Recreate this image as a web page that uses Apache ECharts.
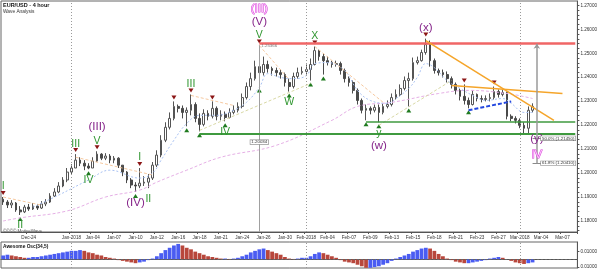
<!DOCTYPE html>
<html><head><meta charset="utf-8">
<script src="https://cdn.jsdelivr.net/npm/echarts@6/dist/echarts.min.js"></script>
<style>html,body{margin:0;padding:0;background:#fff}#c{width:600px;height:271px}</style>
</head><body><div id="c"></div>
<script>
// ---- axis / category data ----
const tickLabels = ['Dec-24','','Jan-2018','Jan-04','Jan-07','Jan-10','Jan-12','Jan-16','Jan-18','Jan-21','Jan-24','Jan-26','Jan-30','Feb-2018','Feb-04','Feb-07','Feb-09','Feb-13','Feb-15','Feb-18','Feb-21','Feb-23','Feb-27','Mar-2018','Mar-04','Mar-07'];
const firstTickSlot = 6, slotsPerTick = 5, totalSlots = 135;
const monthStarts = ['Jan-2018','Feb-2018','Mar-2018'];
const priceTicks = [1.18,1.19,1.20,1.21,1.22,1.23,1.24,1.25,1.26,1.27];
const oscTicks = [-0.01,0.01];

// ---- EUR/USD candles (open = previous close) ----
const firstOpen = 1.1891;
const closes = [1.1879,1.1867,1.1875,1.1846,1.1838,1.1858,1.1850,1.1862,1.1854,1.1871,
1.1879,1.1904,1.1921,1.1946,1.1971,1.2004,1.2021,1.2054,1.2041,1.2029,
1.2021,1.2050,1.2079,1.2062,1.2071,1.2054,1.2062,1.2033,1.2004,1.1971,
1.1950,1.1946,1.1958,1.1962,1.1979,1.2033,1.2075,1.2137,1.2191,1.2228,
1.2278,1.2270,1.2253,1.2262,1.2286,1.2228,1.2203,1.2249,1.2237,1.2270,
1.2237,1.2245,1.2232,1.2253,1.2262,1.2278,1.2315,1.2361,1.2394,1.2444,
1.2419,1.2453,1.2436,1.2428,1.2419,1.2411,1.2378,1.2361,1.2403,1.2419,
1.2424,1.2432,1.2453,1.2511,1.2486,1.2469,1.2461,1.2453,1.2457,1.2428,
1.2394,1.2378,1.2345,1.2303,1.2262,1.2270,1.2262,1.2274,1.2253,1.2278,
1.2286,1.2315,1.2328,1.2353,1.2386,1.2394,1.2461,1.2469,1.2503,1.2536,
1.2469,1.2428,1.2419,1.2411,1.2394,1.2370,1.2345,1.2320,1.2303,1.2286,
1.2328,1.2311,1.2307,1.2311,1.2315,1.2340,1.2328,1.2336,1.2237,1.2228,
1.2220,1.2199,1.2187,1.2262,1.2278];
const highs = [1.1900,1.1887,1.1887,1.1879,1.1862,1.1867,1.1871,1.1875,1.1871,1.1883,
1.1891,1.1916,1.1937,1.1962,1.1983,1.2021,1.2037,1.2079,1.2066,1.2054,
1.2041,1.2066,1.2091,1.2083,1.2083,1.2079,1.2071,1.2066,1.2033,1.2008,
1.1979,1.1962,1.2021,1.1987,1.1996,1.2046,1.2095,1.2158,1.2212,1.2253,
1.2299,1.2286,1.2282,1.2274,1.2328,1.2295,1.2249,1.2266,1.2262,1.2299,
1.2278,1.2262,1.2257,1.2270,1.2282,1.2295,1.2332,1.2378,1.2419,1.2469,
1.2532,1.2486,1.2469,1.2444,1.2440,1.2432,1.2419,1.2394,1.2419,1.2440,
1.2444,1.2453,1.2478,1.2528,1.2515,1.2498,1.2486,1.2469,1.2469,1.2465,
1.2436,1.2403,1.2386,1.2353,1.2311,1.2286,1.2278,1.2286,1.2286,1.2291,
1.2303,1.2332,1.2349,1.2370,1.2403,1.2419,1.2482,1.2486,1.2515,1.2561,
1.2553,1.2478,1.2436,1.2432,1.2424,1.2403,1.2378,1.2353,1.2370,1.2315,
1.2345,1.2332,1.2324,1.2324,1.2332,1.2361,1.2349,1.2349,1.2340,1.2245,
1.2237,1.2228,1.2212,1.2278,1.2291];
const lows = [1.1867,1.1854,1.1854,1.1838,1.1825,1.1833,1.1842,1.1846,1.1846,1.1850,
1.1862,1.1875,1.1900,1.1916,1.1941,1.1962,1.1996,1.2021,1.2029,1.2012,
1.2016,1.2021,1.2046,1.2054,1.2054,1.2041,1.2041,1.2021,1.1987,1.1958,
1.1937,1.1921,1.1937,1.1946,1.1937,1.1971,1.2025,1.2066,1.2129,1.2182,
1.2220,1.2253,1.2228,1.2195,1.2241,1.2212,1.2174,1.2195,1.2220,1.2228,
1.2220,1.2220,1.2216,1.2228,1.2245,1.2253,1.2270,1.2307,1.2345,1.2386,
1.2361,1.2407,1.2419,1.2407,1.2403,1.2394,1.2361,1.2340,1.2353,1.2394,
1.2411,1.2411,1.2386,1.2449,1.2469,1.2411,1.2449,1.2440,1.2444,1.2411,
1.2378,1.2361,1.2332,1.2286,1.2249,1.2220,1.2245,1.2253,1.2212,1.2245,
1.2270,1.2278,1.2307,1.2320,1.2345,1.2278,1.2386,1.2453,1.2465,1.2494,
1.2444,1.2415,1.2407,1.2399,1.2378,1.2353,1.2328,1.2303,1.2286,1.2270,
1.2282,1.2299,1.2295,1.2299,1.2299,1.2307,1.2315,1.2320,1.2224,1.2216,
1.2207,1.2187,1.2166,1.2162,1.2253];

// ---- moving averages: [slot, price] ----
const fastMA = [[7,1.1858],[13,1.1908],[20,1.1971],[25,1.2012],[32,1.1979],[35,1.2000],[37,1.2054],[40,1.2137],[43,1.2207],[46,1.2241],[50,1.2241],[54,1.2262],[57,1.2295],[60,1.2357],[62,1.2415],[65,1.2399],[68,1.2394],[71,1.2407],[73,1.2457],[76,1.2461],[80,1.2428],[83,1.2345],[86,1.2303],[90,1.2291],[92,1.2311],[95,1.2353],[97,1.2399],[99,1.2457],[101,1.2440],[104,1.2386],[107,1.2353],[110,1.2324],[113,1.2303],[117,1.2311],[119,1.2291],[122,1.2253],[124,1.2253]];
const slowMA = [[0,1.1800],[4,1.1813],[15,1.1842],[24,1.1900],[32,1.1929],[36,1.1962],[43,1.2012],[51,1.2066],[64,1.2116],[77,1.2220],[83,1.2278],[91,1.2295],[102,1.2332],[109,1.2345],[118,1.2332],[124,1.2311]];

// ---- Awesome Oscillator (34,5) ----
const aoValues = [0.005,0.006,0.005,0.004,0.003,0.002,0.002,0.003,0.003,0.004,
0.005,0.006,0.007,0.008,0.009,0.010,0.011,0.011,0.012,0.011,
0.009,0.008,0.006,0.005,0.003,0.002,0.001,-0.001,-0.002,-0.003,
-0.004,-0.005,-0.004,-0.003,-0.001,0.001,0.004,0.008,0.012,0.015,
0.018,0.020,0.018,0.015,0.013,0.010,0.008,0.006,0.004,0.003,
0.002,0.001,0.001,0.0005,0.001,0.002,0.004,0.006,0.009,0.011,
0.013,0.014,0.012,0.010,0.008,0.006,0.003,0.001,0.0005,0.001,
0.002,0.002,0.004,0.007,0.009,0.008,0.006,0.004,0.002,-0.001,
-0.003,-0.004,-0.005,-0.007,-0.009,-0.011,-0.011,-0.010,-0.009,-0.007,
-0.005,-0.002,0.001,0.003,0.005,0.007,0.010,0.012,0.014,0.015,
0.014,0.011,0.007,0.004,0.001,-0.001,-0.003,-0.004,-0.005,-0.005,
-0.004,-0.003,-0.002,-0.001,0.001,0.002,0.003,0.002,0.000,-0.002,
-0.004,-0.005,-0.006,-0.005,-0.004];

// ---- wave pivots & labels ----
const pivotHighs = [0,17,22,32,40,44,49,60,73,99,108,115];
const pivotLows = [4,20,31,43,46,52,60,67,72,75,85,88,95,109];
// [text, slot, anchor('high'|'low'), style, stack level]
const waveLabels = [
 ['I',0,'high','g',1],['II',4,'low','g',1],['III',17,'high','g',1],['IV',20,'low','g',1],
 ['V',22,'high','g',1],['(III)',22,'high','p',2],['(IV)',31,'low','p',1],
 ['I',32,'high','g',1],['II',34,'low','g',1],['III',44,'high','g',1],['IV',52,'low','g',1],
 ['V',60,'high','g',1],['(V)',60,'high','p',2],['(III)',60,'high','m',3],
 ['W',67,'low','g',1],['X',73,'high','g',1],['y',88,'low','g',1],['(w)',88,'low','p',2],
 ['(x)',99,'high','p',1]
];
// projected target (slot, price)
const targetSlot = 125;
const targetLabels = [['(y)',1.2141,'p'],['IV',1.2075,'m']];

// ---- drawn levels / tools ----
const resistance = 1.2540, support1 = 1.2166, support2 = 1.2216;
const fib50 = 1.2145, fib618 = 1.2041;
const lastPrices = [1.2307,1.2274,1.2245];
const toolNotes = [['1.25366',60,1.2530],['1.20034',60,1.2129]];

// ================= build =================
const cats = [];
for (let i = 0; i < totalSlots; i++) cats.push(String(i));
const tickOf = i => { const d = i - firstTickSlot; return (d >= 0 && d % slotsPerTick === 0) ? d / slotsPerTick : -1; };
const slotOf = name => firstTickSlot + slotsPerTick * tickLabels.indexOf(name);
const candles = closes.map((c, i) => [i === 0 ? firstOpen : closes[i - 1], c, lows[i], highs[i]]);
const last = totalSlots - 1;

const styles = {
  g: {color:'#2f962f', fontSize:10.5, fontFamily:'Liberation Sans', opacity:1},
  p: {color:'#86258a', fontSize:11.5, fontFamily:'Liberation Sans', opacity:1},
  m: {color:'#ffc8ff', fontSize:11.5, fontFamily:'Liberation Sans', opacity:1, textBorderColor:'#d43bd4', textBorderWidth:1}
};
const labelData = waveLabels.map(([t, s, a, st, lv]) => ({
  value: [s, a === 'high' ? highs[s] : lows[s]],
  label: Object.assign({show:true, formatter:t, position: a === 'high' ? 'top' : 'bottom', distance: 5 + (lv - 1) * 13}, styles[st])
}));
targetLabels.forEach(([t, p, st]) => labelData.push({value:[targetSlot, p], label: Object.assign({show:true, formatter:t, position:'inside'}, styles[st])}));

const seg = (a, b, ls) => [{coord:a, lineStyle:ls}, {coord:b}];
const peach = {color:'#f6c9a0', type:[3,2], width:1};
const khaki = {color:'#d9d9a6', type:[3,2], width:1};
const boxLabel = {show:true, position:'inside', fontSize:4.4, color:'#333', backgroundColor:'#fff', borderColor:'#888', borderWidth:0.6, padding:[0,1]};

const chart = echarts.init(document.getElementById('c'));
chart.setOption({
  animation:false,
  backgroundColor:'#fff',
  textStyle:{fontFamily:'Liberation Sans'},
  title:[
    {text:'EUR/USD - 4 hour', subtext:'Wave Analysis', left:3, top:2, itemGap:1, padding:0,
     textStyle:{fontSize:5.5, fontWeight:'bold', color:'#111'}, subtextStyle:{fontSize:4.8, color:'#333'}},
    {text:'Awesome Osc(34,5)', left:3, top:244, padding:0, textStyle:{fontSize:4.8, fontWeight:'bold', color:'#111'}},
    {text:'©©©© MotiveWave', left:3, top:229, padding:0, textStyle:{fontSize:4.5, fontWeight:'normal', color:'#555'}}
  ],
  grid:[
    {left:1, right:22, top:1, height:231, show:true, borderColor:'#666', borderWidth:1},
    {left:1, right:22, top:242, height:26, show:true, borderColor:'#666', borderWidth:1}
  ],
  xAxis:[
    {type:'category', gridIndex:0, data:cats, boundaryGap:true,
     axisLine:{lineStyle:{color:'#555'}},
     axisTick:{show:true, length:2, interval:(i)=>tickOf(i) >= 0 && tickLabels[tickOf(i)] !== '', lineStyle:{color:'#555'}},
     axisLabel:{interval:0, fontSize:4.6, color:'#333', margin:3, formatter:(v, i)=>{const k = tickOf(i); return k >= 0 ? tickLabels[k] : '';}},
     splitLine:{show:false}},
    {type:'category', gridIndex:1, data:cats, boundaryGap:true, axisLine:{lineStyle:{color:'#555'}}, axisTick:{show:false}, axisLabel:{show:false}}
  ],
  yAxis:[
    {type:'value', gridIndex:0, position:'right', min:1.1754, max:1.2718, scale:true,
     axisLine:{show:true, lineStyle:{color:'#555'}},
     axisTick:{show:true, length:2, customValues:Array.from({length:49}, (_, k)=>+(1.176 + k*0.002).toFixed(3)), lineStyle:{color:'#555'}},
     axisLabel:{customValues:priceTicks, fontSize:4.6, color:'#333', margin:3, formatter:v=>v.toFixed(5)},
     splitLine:{show:false}},
    {type:'value', gridIndex:1, position:'right', min:-0.01125, max:0.0225,
     axisLine:{show:true, lineStyle:{color:'#555'}},
     axisTick:{show:true, length:2, customValues:oscTicks},
     axisLabel:{customValues:oscTicks, fontSize:4.6, color:'#333', margin:3, formatter:v=>Math.abs(v).toFixed(5)},
     splitLine:{show:false}}
  ],
  series:[
    {type:'line', xAxisIndex:0, yAxisIndex:0, data:[], silent:true,
     markLine:{silent:true, symbol:'none', label:{show:false},
       data: monthStarts.map(m=>({xAxis:String(slotOf(m)), lineStyle:{color:'#9a9a9a', type:[1,2], width:1}}))}},
    {type:'line', xAxisIndex:0, yAxisIndex:0, data:slowMA, showSymbol:false, smooth:0.4, silent:true,
     lineStyle:{color:'#e6b0e6', width:1, type:[3,2]}},
    {type:'line', xAxisIndex:0, yAxisIndex:0, data:fastMA, showSymbol:false, smooth:0.4, silent:true,
     lineStyle:{color:'#a9c2f3', width:1, type:[2,2]}},
    {type:'line', xAxisIndex:0, yAxisIndex:0, data:[], silent:true,
     markLine:{silent:true, symbol:'none', label:{show:false}, data:[
       seg([0,1.1900],[9,1.1866],peach),
       seg([17,1.2066],[35,1.1992],peach),
       seg([44,1.2324],[54,1.2282],peach),
       seg([60,1.2532],[67,1.2390],peach),
       seg([73,1.2528],[89,1.2295],peach),
       seg([46,1.2178],[72,1.2374],khaki),
       seg([88,1.2199],[105,1.2386],khaki),
       seg([60,highs[60]],[60,1.1754],{color:'#a0a0a0', width:1, type:'solid'}),
       seg([60,resistance],[last,resistance],{color:'#f06666', width:2.5, type:'solid'}),
       seg([46,support1],[last,support1],{color:'#3f9a3f', width:2, type:'solid'}),
       seg([85,support2],[last,support2],{color:'#3f9a3f', width:1.6, type:'solid'}),
       seg([99,1.2553],[129,1.2220],{color:'#f5a52a', width:1.5, type:'solid'}),
       seg([105,1.2365],[131,1.2332],{color:'#f5a52a', width:1.5, type:'solid'}),
       seg([109,1.2262],[119,1.2299],{color:'#2448e0', width:2, type:[4,2]}),
       seg([124,fib50],[127,fib50],{color:'#8a8a8a', width:1, type:'solid'}),
       seg([124,fib618],[127,fib618],{color:'#8a8a8a', width:1, type:'solid'}),
       [{coord:[targetSlot,fib618], symbol:'none', lineStyle:{color:'#9a9a9a', width:1.5, type:'solid'}},{coord:[targetSlot,resistance], symbol:'arrow', symbolSize:5}]
     ]}},
    {type:'candlestick', xAxisIndex:0, yAxisIndex:0, data:candles, barWidth:2.2, silent:true,
     itemStyle:{color:'#ffffff', color0:'#4a4a4a', borderColor:'#555', borderColor0:'#4a4a4a', borderWidth:1},
     markLine:{silent:true, symbol:'none', lineStyle:{opacity:0},
       label:{position:'end', distance:1, fontSize:4.6, color:'#111', backgroundColor:'#fff', borderColor:'#333', borderWidth:0.6, padding:[0,1], formatter:p=>p.value.toFixed(5)},
       data: lastPrices.map((v, i)=>({yAxis:v, label: i === 1 ? {backgroundColor:'#5d6fe0', color:'#fff', borderColor:'#3344aa'} : {}}))}},
    {type:'scatter', xAxisIndex:0, yAxisIndex:0, silent:true, symbol:'triangle', symbolRotate:180, symbolSize:[5,4], symbolOffset:[0,-4],
     itemStyle:{color:'#8b1515', opacity:1}, data: pivotHighs.map(s=>[s, highs[s]])},
    {type:'scatter', xAxisIndex:0, yAxisIndex:0, silent:true, symbol:'triangle', symbolSize:[5,4], symbolOffset:[0,4],
     itemStyle:{color:'#1f7a1f', opacity:1}, data: pivotLows.map(s=>[s, lows[s]])},
    {type:'scatter', xAxisIndex:0, yAxisIndex:0, silent:true, symbolSize:0, itemStyle:{opacity:1}, data: labelData, z:10},
    {type:'scatter', xAxisIndex:0, yAxisIndex:0, silent:true, symbolSize:0, itemStyle:{opacity:1}, z:10,
     data:[{value:[130,fib50], label:Object.assign({}, boxLabel, {formatter:'50.0% ('+fib50.toFixed(5)+')'})},
           {value:[130,fib618], label:Object.assign({}, boxLabel, {formatter:'61.8% ('+fib618.toFixed(5)+')'})},
           ...toolNotes.map(([t, s, p], i)=>({value:[s, p], label:Object.assign({}, boxLabel, i === 0 ? {position:'right', distance:1, borderWidth:0, backgroundColor:'transparent', color:'#777'} : {}, {formatter:t})}))]},
    {type:'bar', xAxisIndex:1, yAxisIndex:1, silent:true, barCategoryGap:'12%',
     data: aoValues.map((v, i)=>({value:v, itemStyle:{color: (i > 0 && v < aoValues[i-1]) ? '#b8473c' : '#4a5cf2'}})),
     markLine:{silent:true, symbol:'none', label:{show:false}, data:[
       {yAxis:0, lineStyle:{color:'#666', type:[2,2], width:1}},
       ...monthStarts.map(m=>({xAxis:String(slotOf(m)), lineStyle:{color:'#9a9a9a', type:[1,2], width:1}}))]}}
  ]
});
</script></body></html>
